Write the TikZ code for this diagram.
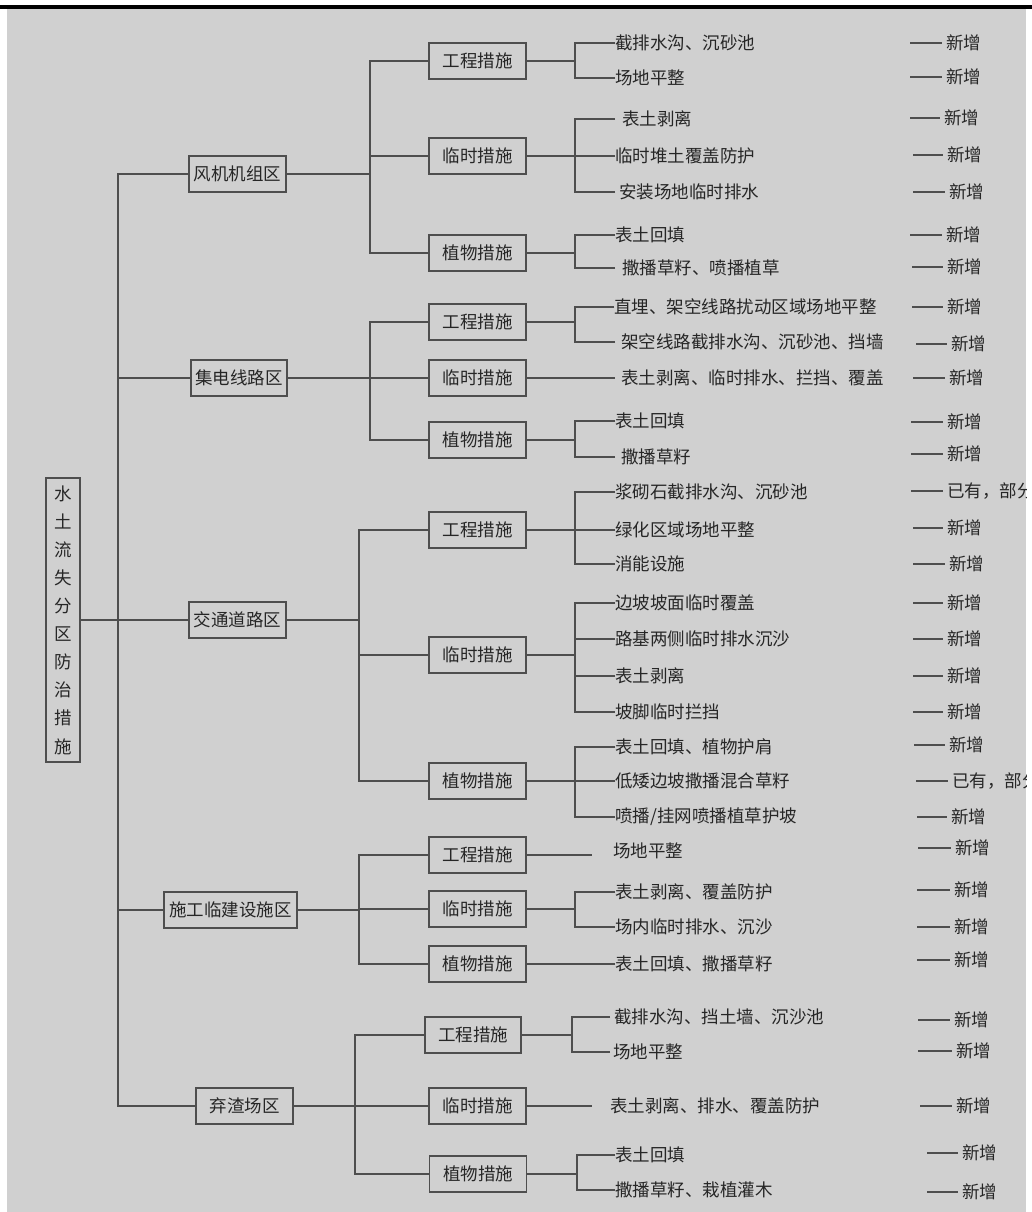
\documentclass[tikz,border=0pt]{standalone}
\usepackage{fontspec}
\newfontfamily\cjk{Noto Sans CJK SC}
\definecolor{bgc}{RGB}{208,208,208}
\definecolor{lnc}{RGB}{78,78,78}
\definecolor{txc}{RGB}{38,38,38}
\newcommand\tg[5]{\node[tag] (#1) at (#3,#4) {#5}; \draw[conn] ([xshift=-#2pt]#1.west) -- (#1.west);}
\begin{document}
\begin{tikzpicture}[x=1pt,y=-1pt,
  every node/.style={font=\cjk\fontsize{17.5}{20}\selectfont, text=txc},
  box/.style={draw=lnc, line width=1.2pt, minimum height=36pt, minimum width=97pt, inner sep=0pt},
  leaf/.style={anchor=west, inner xsep=0pt, inner ysep=0pt},
  tag/.style={anchor=west, inner xsep=4pt, inner ysep=0pt},
  conn/.style={draw=lnc, line width=1.2pt}]
\useasboundingbox (0,0) rectangle (1032,1212);
\fill[white] (0,0) rectangle (1032,1212);
\fill[black] (0,5) rectangle (1032,9);
\fill[bgc] (7,9) rectangle (1026,1212);
\begin{scope}
\clip (7,9) rectangle (1026,1212);
% root
\node[box, minimum width=34pt, minimum height=284pt, align=center, font=\cjk\fontsize{17.5}{28.1}\selectfont] (root) at (63,620) {水\\土\\流\\失\\分\\区\\防\\治\\措\\施};
% level 1
\node[box] (a1) at (237.5,174) {风机机组区};
\node[box, minimum width=96pt] (a2) at (239,378) {集电线路区};
\node[box] (a3) at (237.5,620) {交通道路区};
\node[box, minimum width=133pt] (a4) at (230.5,910) {施工临建设施区};
\node[box] (a5) at (244.5,1106) {弃渣场区};
\coordinate (t0) at (118,620);
\draw[conn] (root.east) -- (a3.west);
\foreach \n in {a1,a2,a4,a5} {\draw[conn] (\n.west) -| (t0);}
% level 2
\node[box] (b11) at (477.5,61) {工程措施};
\node[box] (b12) at (477.5,156) {临时措施};
\node[box] (b13) at (477.5,253) {植物措施};
\node[box] (b21) at (477.5,322) {工程措施};
\node[box] (b22) at (477.5,378) {临时措施};
\node[box] (b23) at (477.5,440) {植物措施};
\node[box] (b31) at (477.5,530) {工程措施};
\node[box] (b32) at (477.5,655) {临时措施};
\node[box] (b33) at (477.5,781) {植物措施};
\node[box] (b41) at (477.5,855) {工程措施};
\node[box] (b42) at (477.5,909) {临时措施};
\node[box] (b43) at (477.5,964) {植物措施};
\node[box, minimum width=96pt] (b51) at (473,1035) {工程措施};
\node[box] (b52) at (477.5,1106) {临时措施};
\node[box] (b53) at (478,1174) {植物措施};
\coordinate (j1) at (370,174);
\coordinate (j2) at (370,378);
\coordinate (j3) at (359,620);
\coordinate (j4) at (359,910);
\coordinate (j5) at (355,1106);
\draw[conn] (a1.east) -- (j1);
\foreach \n in {b11,b12,b13} {\draw[conn] (\n.west) -| (j1);}
\draw[conn] (a2.east) -- (j2);
\foreach \n in {b21,b22,b23} {\draw[conn] (\n.west) -| (j2);}
\draw[conn] (a3.east) -- (j3);
\foreach \n in {b31,b32,b33} {\draw[conn] (\n.west) -| (j3);}
\draw[conn] (a4.east) -- (j4);
\foreach \n in {b41,b42,b43} {\draw[conn] (\n.west) -| (j4);}
\draw[conn] (a5.east) -- (j5);
\foreach \n in {b51,b52,b53} {\draw[conn] (\n.west) -| (j5);}
% level 3 leaves
\node[leaf] (l11a) at (615,43) {截排水沟、沉砂池};
\node[leaf] (l11b) at (615,78) {场地平整};
\node[leaf, inner xsep=7pt] (l12a) at (615,119) {表土剥离};
\node[leaf] (l12b) at (615,156) {临时堆土覆盖防护};
\node[leaf, inner xsep=4pt] (l12c) at (615,192) {安装场地临时排水};
\node[leaf] (l13a) at (615,235) {表土回填};
\node[leaf, inner xsep=7pt] (l13b) at (615,268) {撒播草籽、喷播植草};
\node[leaf] (l21a) at (614,307) {直埋、架空线路扰动区域场地平整};
\node[leaf, inner xsep=6pt] (l21b) at (615,342) {架空线路截排水沟、沉砂池、挡墙};
\node[leaf, inner xsep=6pt] (l22a) at (615,378) {表土剥离、临时排水、拦挡、覆盖};
\node[leaf] (l23a) at (615,421) {表土回填};
\node[leaf, inner xsep=6pt] (l23b) at (615,457) {撒播草籽};
\node[leaf] (l31a) at (615,492) {浆砌石截排水沟、沉砂池};
\node[leaf] (l31b) at (615,530) {绿化区域场地平整};
\node[leaf] (l31c) at (615,564) {消能设施};
\node[leaf] (l32a) at (615,603) {边坡坡面临时覆盖};
\node[leaf] (l32b) at (615,639) {路基两侧临时排水沉沙};
\node[leaf] (l32c) at (615,676) {表土剥离};
\node[leaf] (l32d) at (615,712) {坡脚临时拦挡};
\node[leaf] (l33a) at (615,747) {表土回填、植物护肩};
\node[leaf] (l33b) at (615,781) {低矮边坡撒播混合草籽};
\node[leaf] (l33c) at (615,817) {喷播/挂网喷播植草护坡};
\node[leaf, inner xsep=21pt] (l41a) at (592,851) {场地平整};
\node[leaf] (l42a) at (615,892) {表土剥离、覆盖防护};
\node[leaf] (l42b) at (615,927) {场内临时排水、沉沙};
\node[leaf] (l43a) at (615,964) {表土回填、撒播草籽};
\node[leaf, inner xsep=4pt] (l51a) at (610,1017) {截排水沟、挡土墙、沉沙池};
\node[leaf, inner xsep=3pt] (l51b) at (610,1052) {场地平整};
\node[leaf, inner xsep=18pt] (l52a) at (592,1106) {表土剥离、排水、覆盖防护};
\node[leaf] (l53a) at (615,1155) {表土回填};
\node[leaf] (l53b) at (615,1190) {撒播草籽、栽植灌木};
\coordinate (k11) at (575,61);
\coordinate (k12) at (575,156);
\coordinate (k13) at (575,253);
\coordinate (k21) at (575,322);
\coordinate (k23) at (575,440);
\coordinate (k31) at (575,530);
\coordinate (k32) at (575,655);
\coordinate (k33) at (575,781);
\coordinate (k42) at (575,909);
\coordinate (k51) at (572,1035);
\coordinate (k53) at (577,1174);
\draw[conn] (b11.east) -- (k11);
\foreach \n in {l11a,l11b} {\draw[conn] (\n.west) -| (k11);}
\draw[conn] (b12.east) -- (k12);
\foreach \n in {l12a,l12b,l12c} {\draw[conn] (\n.west) -| (k12);}
\draw[conn] (b13.east) -- (k13);
\foreach \n in {l13a,l13b} {\draw[conn] (\n.west) -| (k13);}
\draw[conn] (b21.east) -- (k21);
\foreach \n in {l21a,l21b} {\draw[conn] (\n.west) -| (k21);}
\draw[conn] (b22.east) -- (l22a.west);
\draw[conn] (b23.east) -- (k23);
\foreach \n in {l23a,l23b} {\draw[conn] (\n.west) -| (k23);}
\draw[conn] (b31.east) -- (k31);
\foreach \n in {l31a,l31b,l31c} {\draw[conn] (\n.west) -| (k31);}
\draw[conn] (b32.east) -- (k32);
\foreach \n in {l32a,l32b,l32c,l32d} {\draw[conn] (\n.west) -| (k32);}
\draw[conn] (b33.east) -- (k33);
\foreach \n in {l33a,l33b,l33c} {\draw[conn] (\n.west) -| (k33);}
\draw[conn] (b41.east) -- (b41.east -| l41a.west);
\draw[conn] (b42.east) -- (k42);
\foreach \n in {l42a,l42b} {\draw[conn] (\n.west) -| (k42);}
\draw[conn] (b43.east) -- (l43a.west);
\draw[conn] (b51.east) -- (k51);
\foreach \n in {l51a,l51b} {\draw[conn] (\n.west) -| (k51);}
\draw[conn] (b52.east) -- (l52a.west);
\draw[conn] (b53.east) -- (k53);
\foreach \n in {l53a,l53b} {\draw[conn] (\n.west) -| (k53);}
% right-side tags
\tg{r1}{32}{942}{43}{新增}
\tg{r2}{32}{942}{77}{新增}
\tg{r3}{30}{940}{118}{新增}
\tg{r4}{30}{943}{155}{新增}
\tg{r5}{32}{945}{192}{新增}
\tg{r6}{32}{942}{235}{新增}
\tg{r7}{31}{943}{267}{新增}
\tg{r8}{31}{943}{307}{新增}
\tg{r9}{31}{947}{344}{新增}
\tg{r10}{32}{945}{378}{新增}
\tg{r11}{32}{943}{422}{新增}
\tg{r12}{32}{943}{454}{新增}
\tg{r13}{32}{943}{491}{已有，部分}
\tg{r14}{30}{943}{528}{新增}
\tg{r15}{32}{945}{564}{新增}
\tg{r16}{30}{943}{603}{新增}
\tg{r17}{30}{943}{639}{新增}
\tg{r18}{30}{943}{676}{新增}
\tg{r19}{30}{943}{712}{新增}
\tg{r20}{31}{945}{745}{新增}
\tg{r21}{32}{948}{781}{已有，部分}
\tg{r22}{30}{947}{817}{新增}
\tg{r23}{33}{951}{848}{新增}
\tg{r24}{33}{950}{890}{新增}
\tg{r25}{33}{950}{927}{新增}
\tg{r26}{33}{950}{960}{新增}
\tg{r27}{32}{950}{1020}{新增}
\tg{r28}{34}{952}{1051}{新增}
\tg{r29}{32}{952}{1106}{新增}
\tg{r30}{31}{958}{1153}{新增}
\tg{r31}{31}{958}{1192}{新增}
\end{scope}
\end{tikzpicture}
\end{document}
